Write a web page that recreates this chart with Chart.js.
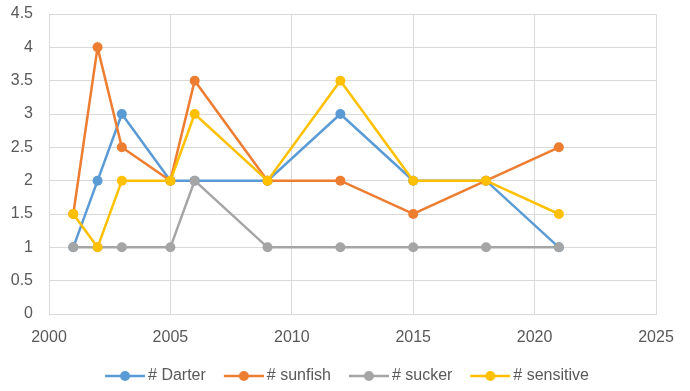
<!DOCTYPE html>
<html>
<head>
<meta charset="utf-8">
<script src="https://cdn.jsdelivr.net/npm/chart.js@4/dist/chart.umd.min.js"></script>
<style>
html,body{margin:0;padding:0;background:#fff;}
#wrap{width:690px;height:391px;position:relative;}
</style>
</head>
<body>
<div id="wrap"><canvas id="c" width="690" height="391"></canvas></div>
<script>
const years = [2001, 2002, 2003, 2005, 2006, 2009, 2012, 2015, 2018, 2021];
const darter = [1, 2, 3, 2, 2, 2, 3, 2, 2, 1];
const sunfish = [1.5, 4, 2.5, 2, 3.5, 2, 2, 1.5, 2, 2.5];
const sucker = [1, 1, 1, 1, 2, 1, 1, 1, 1, 1];
const sensitive = [1.5, 1, 2, 2, 3, 2, 3.5, 2, 2, 1.5];
const seriesNames = ['# Darter', '# sunfish', '# sucker', '# sensitive'];
const seriesColors = ['#5b9bd5', '#ed7d31', '#a5a5a5', '#ffc000'];
const seriesValues = [darter, sunfish, sucker, sensitive];

const FONT = '"Liberation Sans", Arial, sans-serif';

function legendIcon(color) {
  const c = document.createElement('canvas');
  c.width = 45; c.height = 12;
  const g = c.getContext('2d');
  g.strokeStyle = color; g.lineWidth = 2.5;
  g.beginPath(); g.moveTo(5, 6); g.lineTo(45, 6); g.stroke();
  g.fillStyle = color;
  g.beginPath(); g.arc(25, 6, 5, 0, Math.PI * 2); g.fill();
  return c;
}

const datasets = seriesNames.map((name, i) => ({
  label: name,
  data: years.map((y, j) => ({ x: y, y: seriesValues[i][j] })),
  borderColor: seriesColors[i],
  backgroundColor: seriesColors[i],
  borderWidth: 2.5,
  pointRadius: 5,
  pointHoverRadius: 5,
  pointBorderWidth: 0,
  showLine: true,
  tension: 0,
  order: seriesNames.length - i
}));

new Chart(document.getElementById('c'), {
  type: 'scatter',
  data: { datasets },
  options: {
    responsive: false,
    animation: false,
    layout: { padding: { left: 11, right: 7, top: 0, bottom: -3 } },
    plugins: {
      tooltip: { enabled: false },
      legend: {
        position: 'bottom',
        labels: {
          font: { family: FONT, size: 16 },
          color: '#595959',
          usePointStyle: true,
          pointStyleWidth: 35,
          boxHeight: 12,
          padding: 18,
          generateLabels: (chart) => chart.data.datasets.map((d, i) => ({
            text: d.label,
            pointStyle: legendIcon(seriesColors[i]),
            fillStyle: seriesColors[i],
            strokeStyle: seriesColors[i],
            lineWidth: 0,
            fontColor: '#595959',
            datasetIndex: i
          }))
        }
      }
    },
    scales: {
      x: {
        type: 'linear',
        min: 2000, max: 2025,
        ticks: { stepSize: 5, font: { family: FONT, size: 16 }, color: '#595959', padding: 14, maxRotation: 0, callback: v => String(v) },
        grid: { color: '#d9d9d9', lineWidth: 1, drawTicks: false },
        border: { color: '#d9d9d9' },
        afterFit: (axis) => { axis.height = 36; axis.paddingRight = 34; }
      },
      y: {
        min: 0, max: 4.5,
        ticks: { stepSize: 0.5, font: { family: FONT, size: 16 }, color: '#595959', padding: 16, callback: v => String(+v.toFixed(1)) },
        grid: { color: '#d9d9d9', lineWidth: 1, drawTicks: false },
        border: { color: '#d9d9d9' },
        afterFit: (axis) => { axis.width = 38; axis.paddingTop = 14; }
      }
    }
  }
});
</script>
</body>
</html>
